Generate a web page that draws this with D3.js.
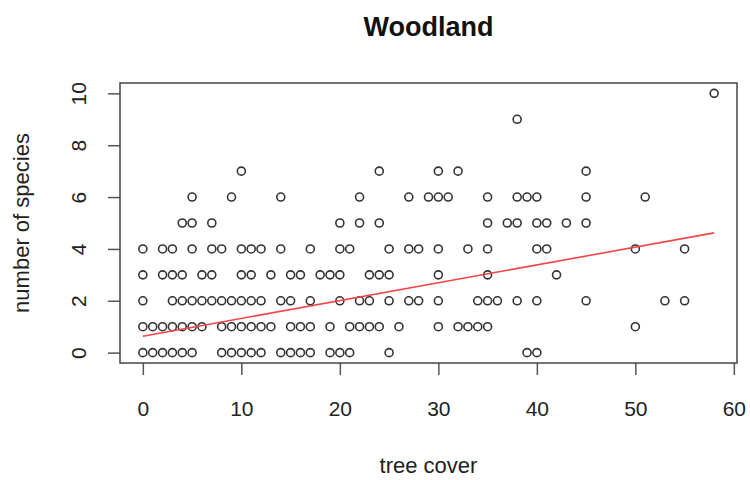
<!DOCTYPE html>
<html>
<head>
<meta charset="utf-8">
<script src="https://cdn.jsdelivr.net/npm/d3@7"></script>
<style>
  body { margin: 0; background: #fff; }
  text { font-family: "Liberation Sans", Arial, sans-serif; fill: #222; }
</style>
</head>
<body>
<div id="chart"></div>
<script>
// points read row by row (species count, then tree cover values)
var treeCover = [
  0,1,2,3,4,5,8,9,10,11,12,14,15,16,17,19,20,21,25,39,40,
  0,1,2,3,4,5,6,8,9,10,11,12,13,15,16,17,19,21,22,23,24,26,30,32,33,34,35,50,
  0,3,4,5,6,7,8,9,10,11,12,14,15,17,20,22,23,25,27,28,30,34,35,36,38,40,45,53,55,
  0,2,3,4,6,7,10,11,13,15,16,18,19,20,23,24,25,30,35,42,
  0,2,3,5,7,8,10,11,12,14,17,20,21,25,27,28,30,33,35,40,41,50,55,
  4,5,7,20,22,24,35,37,38,40,41,43,45,
  5,9,14,22,27,29,30,31,35,38,39,40,45,51,
  10,24,30,32,45,
  38,
  58
];
var species = [
  0,0,0,0,0,0,0,0,0,0,0,0,0,0,0,0,0,0,0,0,0,
  1,1,1,1,1,1,1,1,1,1,1,1,1,1,1,1,1,1,1,1,1,1,1,1,1,1,1,1,
  2,2,2,2,2,2,2,2,2,2,2,2,2,2,2,2,2,2,2,2,2,2,2,2,2,2,2,2,2,
  3,3,3,3,3,3,3,3,3,3,3,3,3,3,3,3,3,3,3,3,
  4,4,4,4,4,4,4,4,4,4,4,4,4,4,4,4,4,4,4,4,4,4,4,
  5,5,5,5,5,5,5,5,5,5,5,5,5,
  6,6,6,6,6,6,6,6,6,6,6,6,6,6,
  7,7,7,7,7,
  9,
  10
];
// fitted line: intercept, slope
var fitCoef = [0.63, 0.0688];
var xTicks = [0, 10, 20, 30, 40, 50, 60];
var yTicks = [0, 2, 4, 6, 8, 10];

var W = 750, H = 480;
var margin = {top: 83, right: 13, bottom: 117, left: 120};
var width = W - margin.left - margin.right, height = H - margin.top - margin.bottom;

var svg = d3.select("#chart").append("svg")
    .attr("width", W)
    .attr("height", H);

var pts = treeCover.map(function (d, i) { return [d, species[i]]; });

// R style 4% padding on both axes
var xe = d3.extent(treeCover), ye = d3.extent(species);
var xp = (xe[1] - xe[0]) * 0.04, yp = (ye[1] - ye[0]) * 0.04;
var x = d3.scaleLinear().domain([xe[0] - xp, xe[1] + xp]).range([margin.left, margin.left + width]);
var y = d3.scaleLinear().domain([ye[0] - yp, ye[1] + yp]).range([margin.top + height, margin.top]);

// x axis
var gx = svg.append("g")
    .attr("transform", "translate(0," + (margin.top + height) + ")")
    .call(d3.axisBottom(x).tickValues(xTicks).tickSize(12).tickFormat(d3.format("d")));
gx.select(".domain").remove();
gx.selectAll("line").attr("stroke", "#555").attr("stroke-width", 1.5);
gx.selectAll("text")
    .attr("y", 53).attr("dy", 0)
    .attr("font-size", 21)
    .style("fill", "#222");

// y axis, labels rotated like R
var gy = svg.append("g")
    .attr("transform", "translate(" + margin.left + ",0)")
    .call(d3.axisLeft(y).tickValues(yTicks).tickSize(12).tickFormat(d3.format("d")));
gy.select(".domain").remove();
gy.selectAll("line").attr("stroke", "#555").attr("stroke-width", 1.5);
gy.selectAll("text")
    .attr("transform", "rotate(-90)")
    .attr("x", 0).attr("y", -34).attr("dy", 0)
    .attr("text-anchor", "middle")
    .attr("font-size", 21)
    .style("fill", "#222");

// box
svg.append("rect")
    .attr("x", margin.left).attr("y", margin.top)
    .attr("width", width).attr("height", height)
    .attr("fill", "none")
    .attr("stroke", "#444")
    .attr("stroke-width", 1.5);

// points
svg.append("g").selectAll("circle")
    .data(pts)
    .enter()
    .append("circle")
      .attr("cx", function (d) { return x(d[0]); })
      .attr("cy", function (d) { return y(d[1]); })
      .attr("r", 4)
      .attr("fill", "none")
      .attr("stroke", "#333")
      .attr("stroke-width", 1.6);

// fitted line over data range
var fitPts = xe.map(function (v) { return [v, fitCoef[0] + fitCoef[1] * v]; });
svg.append("path")
    .attr("d", d3.line().x(function (d) { return x(d[0]); }).y(function (d) { return y(d[1]); })(fitPts))
    .attr("fill", "none")
    .attr("stroke", "#f24545")
    .attr("stroke-width", 1.6);

// titles
svg.append("text")
    .attr("x", margin.left + width / 2).attr("y", 36)
    .attr("text-anchor", "middle")
    .attr("font-size", 27)
    .attr("font-weight", "bold")
    .style("fill", "#111")
    .text("Woodland");

svg.append("text")
    .attr("x", margin.left + width / 2).attr("y", 473)
    .attr("text-anchor", "middle")
    .attr("font-size", 22)
    .text("tree cover");

svg.append("text")
    .attr("transform", "translate(29," + (margin.top + height / 2) + ") rotate(-90)")
    .attr("text-anchor", "middle")
    .attr("font-size", 22)
    .text("number of species");
</script>
</body>
</html>
